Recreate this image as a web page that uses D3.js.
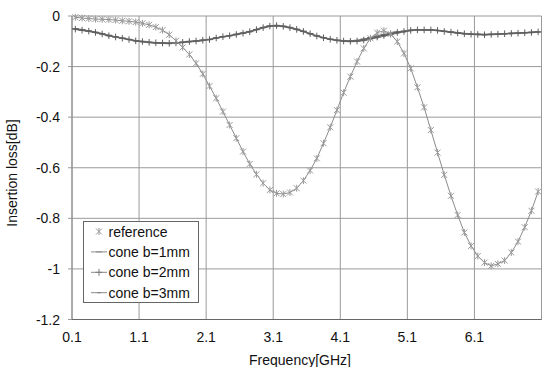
<!DOCTYPE html>
<html>
<head>
<meta charset="utf-8">
<script src="https://cdn.jsdelivr.net/npm/d3@7"></script>
<style>
  html, body { margin: 0; padding: 0; background: #fff; }
  svg { display: block; }
  text { font-family: "Liberation Sans", Arial, sans-serif; font-size: 14px; fill: #111; }
</style>
</head>
<body>
<svg id="chart" width="542" height="367"></svg>
<script>
// ---- data ----
const categories = ["0.1","0.2","0.3","0.4","0.5","0.6","0.7","0.8","0.9","1.0",
  "1.1","1.2","1.3","1.4","1.5","1.6","1.7","1.8","1.9","2.0",
  "2.1","2.2","2.3","2.4","2.5","2.6","2.7","2.8","2.9","3.0",
  "3.1","3.2","3.3","3.4","3.5","3.6","3.7","3.8","3.9","4.0",
  "4.1","4.2","4.3","4.4","4.5","4.6","4.7","4.8","4.9","5.0",
  "5.1","5.2","5.3","5.4","5.5","5.6","5.7","5.8","5.9","6.0",
  "6.1","6.2","6.3","6.4","6.5","6.6","6.7","6.8","6.9","7.0"];

const reference = [-0.005,-0.008,-0.010,-0.012,-0.013,-0.014,-0.016,-0.019,-0.021,-0.024,
  -0.029,-0.035,-0.044,-0.056,-0.074,-0.098,-0.124,-0.152,-0.187,-0.229,
  -0.277,-0.325,-0.378,-0.431,-0.483,-0.536,-0.585,-0.626,-0.661,-0.688,
  -0.701,-0.704,-0.698,-0.681,-0.651,-0.611,-0.563,-0.503,-0.440,-0.372,
  -0.303,-0.240,-0.180,-0.128,-0.088,-0.066,-0.058,-0.071,-0.101,-0.148,
  -0.207,-0.282,-0.361,-0.451,-0.540,-0.628,-0.711,-0.787,-0.856,-0.909,
  -0.949,-0.975,-0.988,-0.980,-0.967,-0.935,-0.892,-0.835,-0.770,-0.694];

const coneB1 = [-0.050,-0.054,-0.059,-0.064,-0.070,-0.076,-0.082,-0.087,-0.092,-0.097,
  -0.100,-0.103,-0.105,-0.106,-0.107,-0.106,-0.103,-0.100,-0.098,-0.095,
  -0.092,-0.086,-0.081,-0.077,-0.072,-0.067,-0.061,-0.053,-0.045,-0.039,
  -0.037,-0.040,-0.045,-0.052,-0.060,-0.069,-0.078,-0.085,-0.091,-0.095,
  -0.097,-0.098,-0.096,-0.091,-0.085,-0.079,-0.073,-0.068,-0.063,-0.060,
  -0.056,-0.054,-0.054,-0.055,-0.057,-0.060,-0.063,-0.066,-0.069,-0.071,
  -0.072,-0.073,-0.072,-0.071,-0.070,-0.068,-0.067,-0.066,-0.064,-0.063];

const coneB2 = [-0.052,-0.056,-0.060,-0.065,-0.071,-0.078,-0.083,-0.088,-0.093,-0.098,
  -0.101,-0.104,-0.106,-0.107,-0.108,-0.106,-0.104,-0.101,-0.099,-0.096,
  -0.093,-0.087,-0.082,-0.078,-0.073,-0.068,-0.062,-0.054,-0.046,-0.040,
  -0.038,-0.041,-0.046,-0.053,-0.061,-0.070,-0.079,-0.086,-0.092,-0.096,
  -0.099,-0.100,-0.099,-0.095,-0.089,-0.083,-0.077,-0.071,-0.065,-0.061,
  -0.057,-0.055,-0.055,-0.055,-0.057,-0.061,-0.064,-0.067,-0.070,-0.072,
  -0.073,-0.074,-0.073,-0.072,-0.070,-0.069,-0.068,-0.066,-0.065,-0.063];

const coneB3 = [-0.053,-0.057,-0.061,-0.066,-0.072,-0.079,-0.084,-0.089,-0.094,-0.099,
  -0.102,-0.105,-0.107,-0.108,-0.109,-0.107,-0.105,-0.102,-0.100,-0.097,
  -0.094,-0.088,-0.083,-0.079,-0.074,-0.069,-0.063,-0.055,-0.047,-0.041,
  -0.039,-0.042,-0.047,-0.054,-0.062,-0.071,-0.080,-0.087,-0.093,-0.097,
  -0.100,-0.101,-0.100,-0.097,-0.092,-0.086,-0.080,-0.074,-0.068,-0.063,
  -0.058,-0.056,-0.056,-0.056,-0.058,-0.061,-0.065,-0.068,-0.071,-0.073,
  -0.074,-0.075,-0.074,-0.073,-0.071,-0.070,-0.069,-0.067,-0.066,-0.064];

const seriesNames = ["reference","cone b=1mm","cone b=2mm","cone b=3mm"];
const xTickIndex = [0,10,20,30,40,50,60];
const yTickValues = [0,-0.2,-0.4,-0.6,-0.8,-1,-1.2];
const yTickLabels = ["0","-0.2","-0.4","-0.6","-0.8","-1","-1.2"];
const xTitle = "Frequency[GHz]";
const yTitle = "Insertion loss[dB]";

// ---- drawing ----
const svg = d3.select("#chart");
const L = 72, R = 541.5, T = 16, B = 319.5;
const x = d3.scaleLinear().domain([0, categories.length]).range([L, R]);
const y = d3.scaleLinear().domain([-1.2, 0]).range([B, T]);

const grid = svg.append("g");
// horizontal grid
grid.selectAll("line.h").data(yTickValues).join("line")
  .attr("x1", L - 4).attr("x2", R)
  .attr("y1", d => y(d)).attr("y2", d => y(d))
  .attr("stroke", "#9a9a9a").attr("stroke-width", 1);
// vertical grid
grid.selectAll("line.v").data(xTickIndex.concat([categories.length])).join("line")
  .attr("x1", d => x(d)).attr("x2", d => x(d))
  .attr("y1", T).attr("y2", B)
  .attr("stroke", "#9a9a9a").attr("stroke-width", 1);
// axes
svg.append("line").attr("x1", L).attr("x2", L).attr("y1", T).attr("y2", B)
  .attr("stroke", "#888").attr("stroke-width", 1);
svg.append("line").attr("x1", L).attr("x2", R).attr("y1", B).attr("y2", B)
  .attr("stroke", "#666").attr("stroke-width", 1);

// tick labels
svg.append("g").selectAll("text").data(yTickValues).join("text")
  .attr("x", 60).attr("y", d => y(d)).attr("dy", "0.36em")
  .attr("text-anchor", "end").text((d, i) => yTickLabels[i]);
svg.append("g").selectAll("text").data(xTickIndex).join("text")
  .attr("x", d => x(d)).attr("y", 342)
  .attr("text-anchor", "middle").text(d => categories[d]);

// titles
svg.append("text").attr("x", 300).attr("y", 364.5).attr("text-anchor", "middle").text(xTitle);
svg.append("text").attr("transform", "translate(16.5,173) rotate(-90)")
  .attr("text-anchor", "middle").text(yTitle);

// marker paths
const markers = {
  star: s => `M${-s},${-s}L${s},${s}M${-s},${s}L${s},${-s}M0,${-s-0.5}L0,${s+0.5}`,
  plus: s => `M${-s},0L${s},0M0,${-s}L0,${s}`,
  dash: s => `M${-s},0L${s},0`,
  short: s => `M${-s*0.6},0L${s*0.6},0`
};

const seriesDefs = [
  { name: seriesNames[1], values: coneB1, line: "#707070", lw: 1.2, mk: "dash", mc: "#6a6a6a", ms: 3.3 },
  { name: seriesNames[3], values: coneB3, line: "#7a7a7a", lw: 1.2, mk: "short", mc: "#777", ms: 3.3 },
  { name: seriesNames[2], values: coneB2, line: "#6a6a6a", lw: 1.2, mk: "plus", mc: "#5e5e5e", ms: 3.3 },
  { name: seriesNames[0], values: reference, line: "#8c8c8c", lw: 1, mk: "star", mc: "#9a9a9a", ms: 3 }
];

const lineGen = d3.line().x((d, i) => x(i + 0.5)).y(d => y(d));
seriesDefs.forEach(s => {
  const g = svg.append("g");
  g.append("path").attr("d", lineGen(s.values)).attr("fill", "none")
    .attr("stroke", s.line).attr("stroke-width", s.lw);
  g.selectAll("path.m").data(s.values).join("path").attr("class", "m")
    .attr("transform", (d, i) => `translate(${x(i + 0.5)},${y(d)})`)
    .attr("d", markers[s.mk](s.ms)).attr("fill", "none")
    .attr("stroke", s.mc).attr("stroke-width", 1);
});

// legend
const lg = svg.append("g");
lg.append("rect").attr("x", 83.5).attr("y", 221.5).attr("width", 115).attr("height", 81)
  .attr("fill", "#fff").attr("stroke", "#666").attr("stroke-width", 1);
const legendOrder = [
  { name: seriesNames[0], line: null, mk: "star", mc: "#9a9a9a", ms: 3 },
  { name: seriesNames[1], line: "#8a8a8a", mk: "dash", mc: "#8a8a8a", ms: 3 },
  { name: seriesNames[2], line: "#8a8a8a", mk: "plus", mc: "#7a7a7a", ms: 3.5 },
  { name: seriesNames[3], line: "#8a8a8a", mk: "short", mc: "#7a7a7a", ms: 3 }
];
legendOrder.forEach((d, i) => {
  const cy = 231.5 + i * 20.4;
  if (d.line) lg.append("line").attr("x1", 91).attr("x2", 107).attr("y1", cy).attr("y2", cy)
    .attr("stroke", d.line).attr("stroke-width", 1);
  lg.append("path").attr("transform", `translate(99,${cy})`).attr("d", markers[d.mk](d.ms))
    .attr("fill", "none").attr("stroke", d.mc).attr("stroke-width", 1);
  lg.append("text").attr("x", 108.5).attr("y", cy + 5).text(d.name);
});
</script>
</body>
</html>
